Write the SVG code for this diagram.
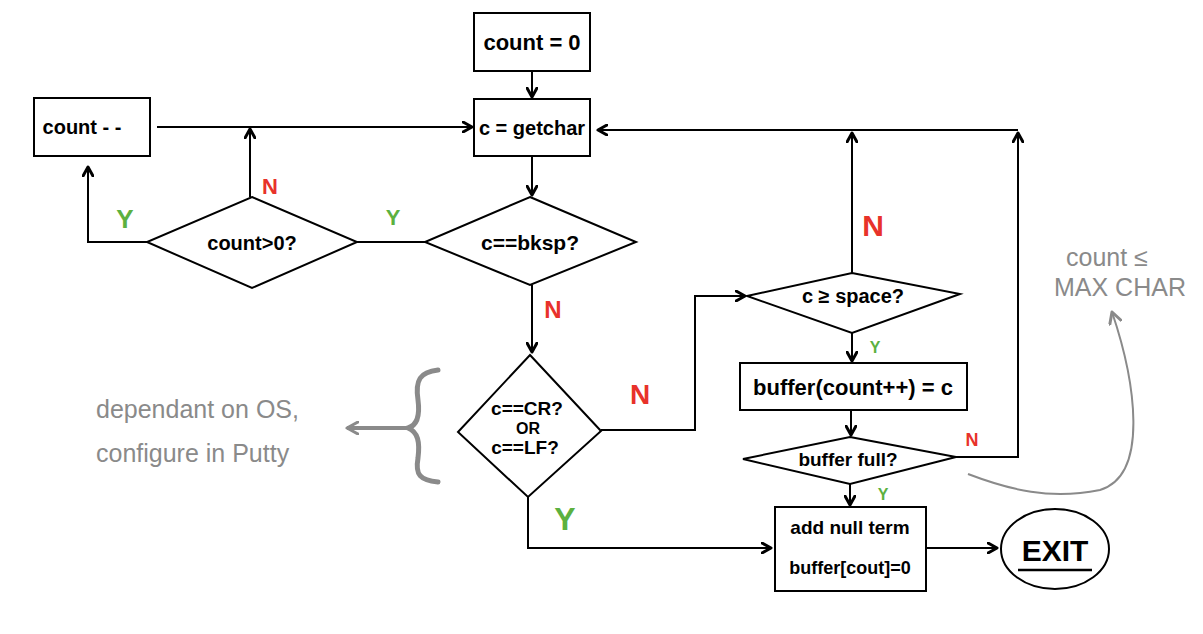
<svg xmlns="http://www.w3.org/2000/svg" width="1203" height="634" viewBox="0 0 1203 634">
<defs>
<marker id="ah" viewBox="0 0 12 12" refX="10" refY="6" markerWidth="12" markerHeight="12" markerUnits="userSpaceOnUse" orient="auto">
<path d="M1,1 L10,6 L1,11" fill="none" stroke="#000" stroke-width="3" stroke-linecap="round" stroke-linejoin="round"/>
</marker>
<marker id="ahg" viewBox="0 0 14 14" refX="12" refY="7" markerWidth="14" markerHeight="14" markerUnits="userSpaceOnUse" orient="auto">
<path d="M1,1 L12,7 L1,13" fill="none" stroke="#8a8a8a" stroke-width="3" stroke-linecap="round" stroke-linejoin="round"/>
</marker>
</defs>
<style>
.box{fill:#fff;stroke:#000;stroke-width:2}
.t{font-family:"Liberation Sans",Arial,sans-serif;font-weight:bold;fill:#000;text-anchor:middle}
.c{fill:none;stroke:#000;stroke-width:2}
.ca{fill:none;stroke:#000;stroke-width:2;marker-end:url(#ah)}
.n{font-family:"Liberation Sans",Arial,sans-serif;font-weight:bold;fill:#e8322a;text-anchor:middle}
.y{font-family:"Liberation Sans",Arial,sans-serif;font-weight:bold;fill:#5cb13f;text-anchor:middle}
.g{font-family:"Liberation Sans",Arial,sans-serif;font-size:25px;fill:#8a8a8a;text-anchor:start}
.gl{fill:none;stroke:#8a8a8a;stroke-width:2}
</style>
<rect width="1203" height="634" fill="#fff"/>
<g id="connectors">
<path class="ca" d="M532,71 V97"/>
<path class="ca" d="M157,127 H472"/>
<path class="ca" d="M250,197 V129"/>
<path class="ca" d="M147,242 H88 V167"/>
<path class="c" d="M357,242 H425"/>
<path class="ca" d="M532,156 V195"/>
<path class="ca" d="M532,285 V352"/>
<path class="ca" d="M601,430 H695 V296 H745"/>
<path class="ca" d="M528,497 V548 H771"/>
<path class="ca" d="M852,273 V133"/>
<path class="ca" d="M1018,130 H598"/>
<path class="ca" d="M956,457 H1018 V133"/>
<path class="ca" d="M852,333 V361"/>
<path class="ca" d="M851,410 V435"/>
<path class="ca" d="M850,484 V505"/>
<path class="ca" d="M926,548 H997"/>
<path class="gl" d="M968,474 C1010,490 1050,500 1100,490 C1150,475 1135,380 1112,312" style="marker-end:url(#ahg)"/>
</g>
<g id="labels">
<text class="n" x="270" y="194" font-size="22">N</text>
<text class="y" x="125" y="228" font-size="26">Y</text>
<text class="y" x="393" y="225" font-size="22">Y</text>
<text class="n" x="553" y="318" font-size="24">N</text>
<text class="n" x="640" y="404" font-size="28">N</text>
<text class="y" x="565" y="530" font-size="32">Y</text>
<text class="n" x="873" y="236" font-size="30">N</text>
<text class="y" x="875" y="353" font-size="16">Y</text>
<text class="n" x="972" y="446" font-size="18">N</text>
<text class="y" x="883" y="500" font-size="16">Y</text>
</g>
<g id="count0">
<rect class="box" x="474" y="13" width="116" height="58"/>
<text class="t" x="532" y="50" font-size="22">count = 0</text>
</g>
<g id="getchar">
<rect class="box" x="474" y="99" width="116" height="57"/>
<text class="t" x="532" y="135" font-size="20">c = getchar</text>
</g>
<g id="countdec">
<rect class="box" x="34" y="98" width="116" height="58"/>
<text class="t" x="82" y="134" font-size="20">count - -</text>
</g>
<g id="countgt0">
<polygon class="box" points="252,197 357,242 252,288 147,242"/>
<text class="t" x="252" y="250" font-size="20">count&gt;0?</text>
</g>
<g id="bksp">
<polygon class="box" points="530,197 636,242 530,285 425,242"/>
<text class="t" x="530" y="250" font-size="21">c==bksp?</text>
</g>
<g id="crlf">
<polygon class="box" points="530,355 601,431 528,497 458,432"/>
<text class="t" x="527" y="415" font-size="19">c==CR?</text>
<text class="t" x="528" y="434" font-size="16" font-weight="normal">OR</text>
<text class="t" x="525" y="454" font-size="19">c==LF?</text>
</g>
<g id="space">
<polygon class="box" points="852,273 960,294 852,333 747,296"/>
<text class="t" x="853" y="303" font-size="20">c ≥ space?</text>
</g>
<g id="bufcount">
<rect class="box" x="740" y="363" width="227" height="47"/>
<text class="t" x="853" y="395" font-size="22">buffer(count++) = c</text>
</g>
<g id="buffull">
<polygon class="box" points="850,437 956,457 850,484 743,459"/>
<text class="t" x="848" y="466" font-size="19">buffer full?</text>
</g>
<g id="nullterm">
<rect class="box" x="775" y="507" width="151" height="84"/>
<text class="t" x="850" y="534" font-size="19">add null term</text>
<text class="t" x="850" y="574" font-size="18">buffer[cout]=0</text>
</g>
<g id="exit">
<ellipse class="box" cx="1055" cy="549" rx="54" ry="40"/>
<text class="t" x="1055" y="561" font-size="30">EXIT</text>
<path d="M1018,570 H1092" stroke="#000" stroke-width="2.5"/>
</g>
<g id="notes">
<path d="M438,370 C420,372 415,380 418,400 C420,415 418,425 408,428 C418,432 420,442 418,458 C415,475 420,480 438,482" fill="none" stroke="#8a8a8a" stroke-width="5" stroke-linecap="round"/>
<path d="M408,428 H347" fill="none" stroke="#8a8a8a" stroke-width="4" style="marker-end:url(#ahg)"/>
<text class="g" x="96" y="418">dependant on OS,</text>
<text class="g" x="96" y="462">configure in Putty</text>
<text class="g" x="1066" y="266">count ≤</text>
<text class="g" x="1054" y="296">MAX CHAR</text>
</g>
</svg>
